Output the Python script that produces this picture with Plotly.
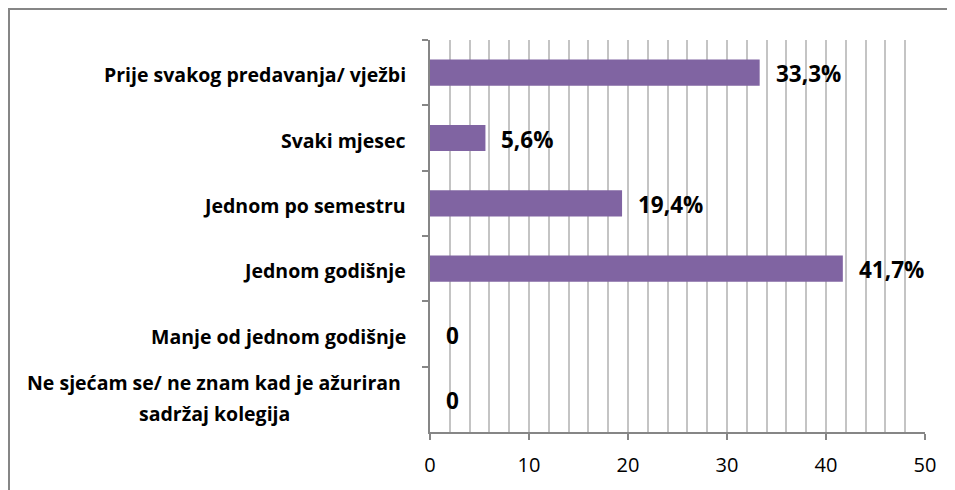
import plotly.graph_objects as go

categories = [
    "Prije svakog predavanja/ vježbi",
    "Svaki mjesec",
    "Jednom po semestru",
    "Jednom godišnje",
    "Manje od jednom godišnje",
    "Ne sjećam se/ ne znam kad je ažuriran<br>sadržaj kolegija",
]
values = [33.3, 5.6, 19.4, 41.7, 0, 0]
value_labels = ["33,3%", "5,6%", "19,4%", "41,7%", "0", "0"]
x_ticks = [0, 10, 20, 30, 40, 50]

FONT = "Open Sans"
GRAY = "#868686"

# the page places the figure 8px in from the window's top-left corner
W, H = 947, 482
L, R, T, B = 422, 30, 32, 58
pw, ph = W - L - R, H - T - B
fx = lambda px: (px - L) / pw
fy = lambda py: 1 - (py - T) / ph

fig = go.Figure()
fig.add_trace(go.Bar(
    x=values, y=categories, orientation="h",
    marker=dict(color="#8064A2", line=dict(width=0)),
    width=0.4, hoverinfo="skip",
))

annotations = []
LINE_GAP = 31
for c, v, t in zip(categories, values, value_labels):
    annotations.append(dict(
        x=v, y=c, xref="x", yref="y", text=f"<b>{t}</b>", showarrow=False,
        xanchor="left", xshift=14, yshift=-1,
        font=dict(family=FONT, size=22.5, color="black"),
    ))
    lines = c.split("<br>")
    n = len(lines)
    for i, ln in enumerate(lines):
        annotations.append(dict(
            x=-0.044 if n == 1 else fx(206), y=c, xref="paper", yref="y",
            text=f"<b>{ln}</b>", showarrow=False,
            xanchor="right" if n == 1 else "center",
            yshift=(-2 if n == 1 else 1) - (i - (n - 1) / 2) * LINE_GAP,
            font=dict(family=FONT, size=19.5, color="black"),
        ))

shapes = [
    dict(type="line", xref="paper", yref="paper", x0=fx(0), x1=fx(960), y0=fy(1), y1=fy(1),
         line=dict(color=GRAY, width=2)),
    dict(type="line", xref="paper", yref="paper", x0=fx(1), x1=fx(1), y0=fy(0), y1=fy(500),
         line=dict(color=GRAY, width=2)),
]

fig.update_layout(
    width=W, height=H,
    margin=dict(l=L, r=R, t=T, b=B),
    paper_bgcolor="white", plot_bgcolor="white",
    showlegend=False,
    annotations=annotations,
    shapes=shapes,
    font=dict(family=FONT, color="black"),
    xaxis=dict(
        range=[0, 50], tickvals=x_ticks, ticktext=[str(v) for v in x_ticks],
        showgrid=True, gridcolor="#C4C4C4", gridwidth=1.5,
        minor=dict(dtick=2, showgrid=True, gridcolor="#C4C4C4", gridwidth=1.5),
        showline=True, linecolor=GRAY, linewidth=1.5,
        ticks="outside", ticklen=6, tickcolor=GRAY, tickwidth=1.5,
        ticklabelstandoff=8,
        tickfont=dict(family=FONT, size=20, color="black"),
        zeroline=False, fixedrange=True,
    ),
    yaxis=dict(
        categoryorder="array", categoryarray=categories, autorange="reversed",
        showticklabels=False,
        showline=True, linecolor=GRAY, linewidth=1.5,
        ticks="outside", ticklen=6, tickcolor=GRAY, tickwidth=1.5,
        tickson="boundaries", showgrid=False, fixedrange=True,
    ),
)

fig.write_html("out.html")
